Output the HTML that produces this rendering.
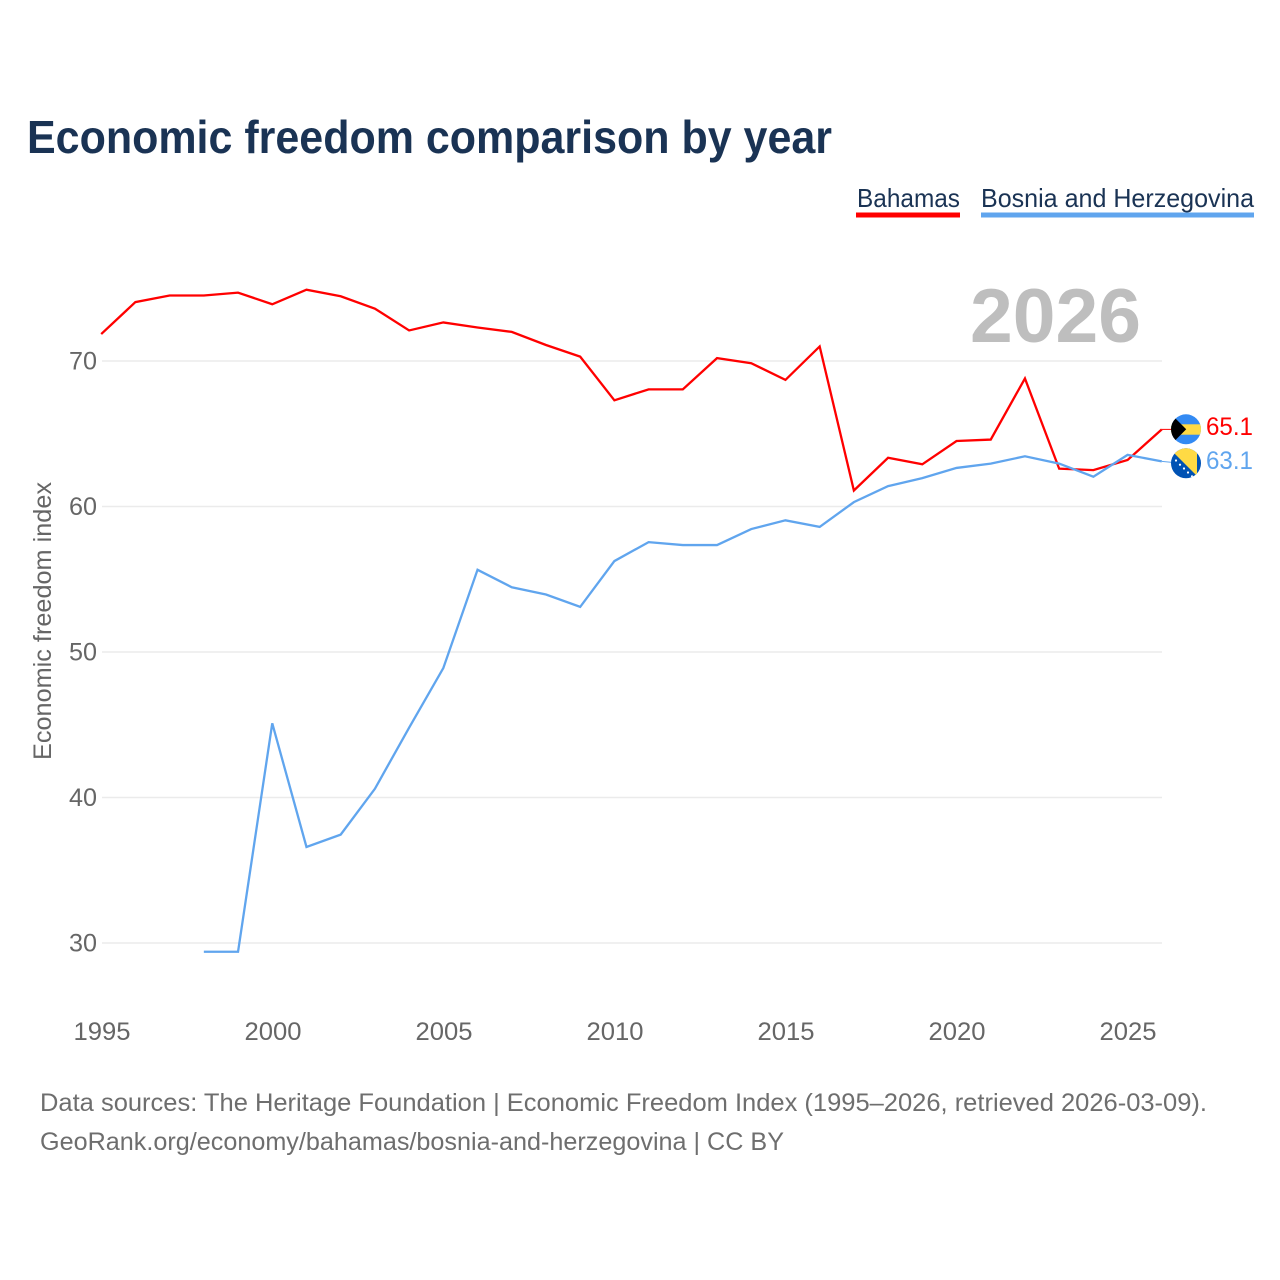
<!DOCTYPE html>
<html lang="en">
<head>
<meta charset="utf-8">
<title>Economic freedom comparison by year</title>
<style>
  html, body { margin: 0; padding: 0; background: #fff; }
  svg { display: block; }
  text { font-family: "Liberation Sans", sans-serif; }
</style>
</head>
<body>
<svg id="chart" width="1280" height="1280" viewBox="0 0 1280 1280" xmlns="http://www.w3.org/2000/svg">
  <rect x="0" y="0" width="1280" height="1280" fill="#ffffff"/>
  <text x="27" y="153" font-size="46" font-weight="700" fill="#1a3354" textLength="805" lengthAdjust="spacingAndGlyphs">Economic freedom comparison by year</text>

  <g>
    <g>
      <text x="857" y="207" font-size="26" fill="#1a3354" textLength="103" lengthAdjust="spacingAndGlyphs">Bahamas</text>
      <rect x="856" y="212.5" width="104" height="5" fill="#ff0000"/>
    </g>
    <g>
      <text x="981" y="207" font-size="26" fill="#1a3354" textLength="273" lengthAdjust="spacingAndGlyphs">Bosnia and Herzegovina</text>
      <rect x="981" y="212.5" width="273" height="5" fill="#60a5ee"/>
    </g>
  </g>

  <g id="grid"></g>
  <g id="y-ticks"></g>
  <g id="x-ticks"></g>

  <text transform="translate(51 760) rotate(-90)" x="0" y="0" font-size="25" fill="#666666" textLength="278" lengthAdjust="spacingAndGlyphs">Economic freedom index</text>

  <text x="970" y="342" font-size="76" font-weight="700" fill="#bebebe" textLength="171" lengthAdjust="spacingAndGlyphs">2026</text>

  <g id="series"></g>

  <defs>
    <clipPath id="flag-clip-bs"><circle cx="1186" cy="429.3" r="15"/></clipPath>
    <clipPath id="flag-clip-ba"><circle cx="1186" cy="463.3" r="15"/></clipPath>
  </defs>

  <g clip-path="url(#flag-clip-bs)">
    <rect x="1171" y="414" width="30" height="31" fill="#338af3"/>
    <rect x="1171" y="424.3" width="30" height="10.4" fill="#ffda44"/>
    <polygon points="1171,414 1186.2,429.3 1171,444.6" fill="#000000"/>
  </g>
  <g clip-path="url(#flag-clip-ba)">
    <rect x="1171" y="448" width="30" height="31" fill="#0052b4"/>
    <polygon points="1171,448 1197,448 1197,476 1172,451" fill="#ffda44"/>
    <g fill="#ffffff">
      <circle cx="1176" cy="460.5" r="1.1"/>
      <circle cx="1180" cy="464.7" r="1.1"/>
      <circle cx="1184" cy="468.5" r="1.1"/>
      <circle cx="1188" cy="472.5" r="1.1"/>
      <circle cx="1192" cy="476.3" r="1.1"/>
    </g>
  </g>

  <g id="end-labels"></g>

  <text x="40" y="1111" font-size="25" fill="#6e6e6e" textLength="1167" lengthAdjust="spacingAndGlyphs">Data sources: The Heritage Foundation | Economic Freedom Index (1995–2026, retrieved 2026-03-09).</text>
  <text x="40" y="1150" font-size="25" fill="#6e6e6e" textLength="744" lengthAdjust="spacingAndGlyphs">GeoRank.org/economy/bahamas/bosnia-and-herzegovina | CC BY</text>
</svg>

<script>
const years = [1995,1996,1997,1998,1999,2000,2001,2002,2003,2004,2005,2006,2007,2008,2009,2010,2011,2012,2013,2014,2015,2016,2017,2018,2019,2020,2021,2022,2023,2024,2025,2026];
const bahamasValues = [71.85,74.05,74.5,74.5,74.7,73.9,74.9,74.45,73.6,72.1,72.65,72.3,72.0,71.1,70.3,67.3,68.05,68.05,70.2,69.85,68.7,71.0,61.1,63.35,62.9,64.5,64.6,68.8,62.6,62.5,63.2,65.3];
const bosniaValues = [null,null,null,29.4,29.4,45.1,36.6,37.45,40.6,44.8,48.9,55.65,54.45,53.95,53.1,56.25,57.55,57.35,57.35,58.45,59.05,58.6,60.3,61.4,61.95,62.65,62.95,63.45,62.95,62.05,63.55,63.1];
const yTickValues = [30,40,50,60,70];
const xTickValues = [1995,2000,2005,2010,2015,2020,2025];
const endLabelTexts = ["65.1","63.1"];

const NS = "http://www.w3.org/2000/svg";
const xScale = function (year) { return 101.2 + (year - 1995) * (1060.6 / 31); };
const yScale = function (value) { return 361 + (70 - value) * 14.55; };

function make(tag, parent) {
  const el = document.createElementNS(NS, tag);
  parent.appendChild(el);
  return el;
}

const gridGroup = document.getElementById("grid");
const yTickGroup = document.getElementById("y-ticks");
const xTickGroup = document.getElementById("x-ticks");
const seriesGroup = document.getElementById("series");
const endGroup = document.getElementById("end-labels");

yTickValues.forEach(function (v) {
  const line = make("line", gridGroup);
  
  
  line.setAttribute("x1", 102);
  line.setAttribute("x2", 1162);
  line.setAttribute("y1", yScale(v));
  line.setAttribute("y2", yScale(v));
  line.setAttribute("stroke", "#ebebeb");
  line.setAttribute("stroke-width", "1.6");

  const label = make("text", yTickGroup);
  
  
  label.setAttribute("x", 97);
  label.setAttribute("y", yScale(v) + 8.5);
  label.setAttribute("text-anchor", "end");
  label.setAttribute("font-size", "25");
  label.setAttribute("fill", "#666666");
  label.setAttribute("textLength", "28");
  label.setAttribute("lengthAdjust", "spacingAndGlyphs");
  label.textContent = String(v);
});

xTickValues.forEach(function (v) {
  const label = make("text", xTickGroup);
  
  
  label.setAttribute("x", 102 + (v - 1995) * 34.2);
  label.setAttribute("y", 1040);
  label.setAttribute("text-anchor", "middle");
  label.setAttribute("font-size", "25");
  label.setAttribute("fill", "#666666");
  label.setAttribute("textLength", "57");
  label.setAttribute("lengthAdjust", "spacingAndGlyphs");
  label.textContent = String(v);
});

function seriesPath(values) {
  let d = "";
  values.forEach(function (v, i) {
    if (v === null) return;
    d += (d === "" ? "M" : "L") + xScale(years[i]).toFixed(2) + " " + yScale(v).toFixed(2);
  });
  return d;
}

const bahamasLine = make("path", seriesGroup);


bahamasLine.setAttribute("d", seriesPath(bahamasValues));
bahamasLine.setAttribute("fill", "none");
bahamasLine.setAttribute("stroke", "#ff0000");
bahamasLine.setAttribute("stroke-width", "2.3");

const bosniaLine = make("path", seriesGroup);


bosniaLine.setAttribute("d", seriesPath(bosniaValues));
bosniaLine.setAttribute("fill", "none");
bosniaLine.setAttribute("stroke", "#60a5ee");
bosniaLine.setAttribute("stroke-width", "2.3");

const bahamasConnector = make("line", seriesGroup);


bahamasConnector.setAttribute("x1", xScale(2026));
bahamasConnector.setAttribute("y1", yScale(bahamasValues[31]));
bahamasConnector.setAttribute("x2", 1172);
bahamasConnector.setAttribute("y2", yScale(bahamasValues[31]));
bahamasConnector.setAttribute("stroke", "#ff0000");
bahamasConnector.setAttribute("stroke-width", "1");

const bosniaConnector = make("line", seriesGroup);


bosniaConnector.setAttribute("x1", xScale(2026));
bosniaConnector.setAttribute("y1", yScale(bosniaValues[31]));
bosniaConnector.setAttribute("x2", 1172);
bosniaConnector.setAttribute("y2", yScale(bosniaValues[31]) + 1);
bosniaConnector.setAttribute("stroke", "#60a5ee");
bosniaConnector.setAttribute("stroke-width", "1");

const bahamasEnd = make("text", endGroup);


bahamasEnd.setAttribute("x", 1206);
bahamasEnd.setAttribute("y", 435);
bahamasEnd.setAttribute("font-size", "25");
bahamasEnd.setAttribute("fill", "#ff0000");
bahamasEnd.setAttribute("textLength", "47");
bahamasEnd.setAttribute("lengthAdjust", "spacingAndGlyphs");
bahamasEnd.textContent = endLabelTexts[0];

const bosniaEnd = make("text", endGroup);


bosniaEnd.setAttribute("x", 1206);
bosniaEnd.setAttribute("y", 469);
bosniaEnd.setAttribute("font-size", "25");
bosniaEnd.setAttribute("fill", "#60a5ee");
bosniaEnd.setAttribute("textLength", "47");
bosniaEnd.setAttribute("lengthAdjust", "spacingAndGlyphs");
bosniaEnd.textContent = endLabelTexts[1];
</script>
</body>
</html>
